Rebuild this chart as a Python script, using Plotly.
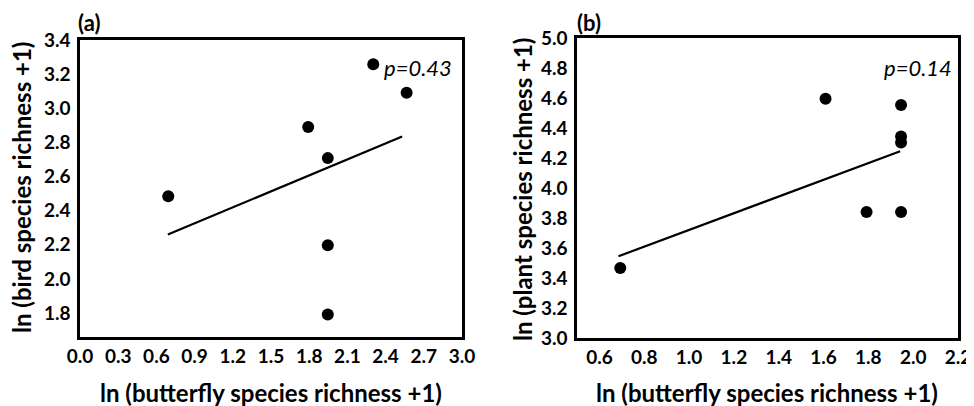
import plotly.graph_objects as go

# Panel (a): bird vs butterfly
a_x = [2.303, 2.565, 1.792, 1.946, 0.693, 1.946, 1.946]
a_y = [3.258, 3.091, 2.890, 2.708, 2.485, 2.197, 1.792]
a_line_x = [0.69, 2.53]
a_line_y = [2.26, 2.835]
a_xticks = [0.0, 0.3, 0.6, 0.9, 1.2, 1.5, 1.8, 2.1, 2.4, 2.7, 3.0]
a_yticks = [1.8, 2.0, 2.2, 2.4, 2.6, 2.8, 3.0, 3.2, 3.4]

# Panel (b): plant vs butterfly
b_x = [1.609, 1.946, 1.946, 1.946, 1.792, 1.946, 0.693]
b_y = [4.595, 4.554, 4.344, 4.304, 3.840, 3.840, 3.466]
b_line_x = [0.685, 1.942]
b_line_y = [3.545, 4.245]
b_xticks = [0.6, 0.8, 1.0, 1.2, 1.4, 1.6, 1.8, 2.0, 2.2]
b_yticks = [3.0, 3.2, 3.4, 3.6, 3.8, 4.0, 4.2, 4.4, 4.6, 4.8, 5.0]

FONT = "Lato"
OFF = 8  # default page body margin
W, H = 974 - OFF, 406 - OFF

fig = go.Figure()
marker = dict(color="black", size=12)
fig.add_trace(go.Scatter(x=a_line_x, y=a_line_y, mode="lines", line=dict(color="black", width=2.2),
                         xaxis="x", yaxis="y", showlegend=False, hoverinfo="skip"))
fig.add_trace(go.Scatter(x=a_x, y=a_y, mode="markers", marker=marker, xaxis="x", yaxis="y", showlegend=False))
fig.add_trace(go.Scatter(x=b_line_x, y=b_line_y, mode="lines", line=dict(color="black", width=2.2),
                         xaxis="x2", yaxis="y2", showlegend=False, hoverinfo="skip"))
fig.add_trace(go.Scatter(x=b_x, y=b_y, mode="markers", marker=marker, xaxis="x2", yaxis="y2", showlegend=False))


def px_x(p):
    return (p - OFF) / W


def px_y(p):
    return 1 - (p - OFF) / H


tickfont = dict(family=FONT, size=19, color="black", weight="bold")
common = dict(showline=True, linecolor="black", linewidth=2.5, mirror=True, showgrid=False,
              zeroline=False, ticks="", tickfont=tickfont, tickformat=".1f", automargin=False)

fig.update_layout(
    width=W, height=H, margin=dict(l=0, r=0, t=0, b=0, pad=0, autoexpand=False),
    paper_bgcolor="white", plot_bgcolor="white",
    xaxis=dict(domain=[px_x(80), px_x(462)], range=[0, 3.0], tickvals=a_xticks, anchor="y",
               ticklabelstandoff=0, **common),
    yaxis=dict(domain=[px_y(337), px_y(40)], range=[1.66, 3.4], tickvals=a_yticks, anchor="x",
               ticklabelstandoff=3, **common),
    xaxis2=dict(domain=[px_x(577), px_x(958)], range=[0.5, 2.2], tickvals=b_xticks, anchor="y2",
                ticklabelstandoff=0, **common),
    yaxis2=dict(domain=[px_y(338), px_y(38)], range=[3.0, 5.0], tickvals=b_yticks, anchor="x2",
                ticklabelstandoff=3, **common),
)

title_font = dict(family=FONT, size=24, color="black", weight="bold")
lab_font = dict(family=FONT, size=22, color="black", weight="bold")
p_font = dict(family=FONT, size=22, color="black")
anns = [
    dict(text="ln (butterfly species richness +1)", x=px_x(271), y=px_y(392), font=title_font),
    dict(text="ln (butterfly species richness +1)", x=px_x(767), y=px_y(392), font=title_font),
    dict(text="ln (bird species richness +1)", x=px_x(22), y=px_y(188), font=title_font, textangle=-90),
    dict(text="ln (plant species richness +1)", x=px_x(522), y=px_y(190), font=title_font, textangle=-90),
    dict(text="(a)", x=px_x(89), y=px_y(23), font=lab_font),
    dict(text="(b)", x=px_x(589), y=px_y(23), font=lab_font),
    dict(text="<i>p=0.43</i>", x=px_x(418), y=px_y(68), font=p_font),
    dict(text="<i>p=0.14</i>", x=px_x(918), y=px_y(68), font=p_font),
]
for a in anns:
    a.update(xref="paper", yref="paper", showarrow=False, xanchor="center", yanchor="middle")
    fig.add_annotation(**a)

fig.write_html("out.html")
